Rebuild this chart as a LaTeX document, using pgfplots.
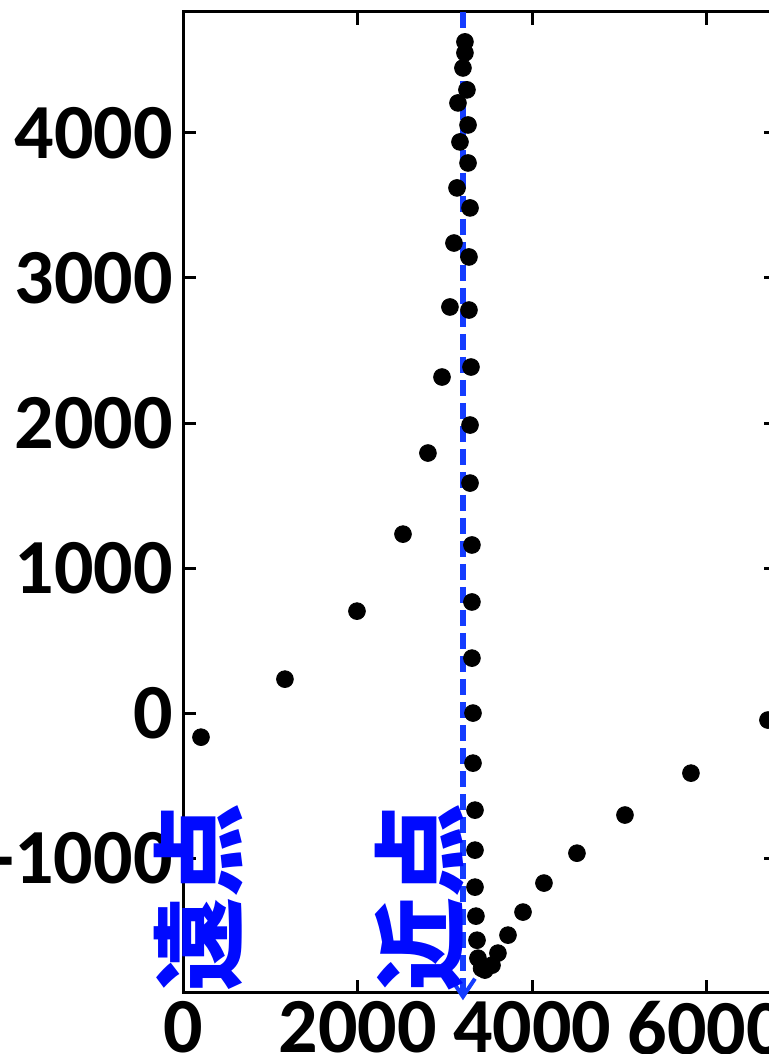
\documentclass[border=0pt]{standalone}
\usepackage{fontspec}
\setmainfont{Carlito}
\newfontfamily\cjk{Noto Sans CJK JP}
\usepackage{pgfplots}
\pgfplotsset{compat=1.18}
\usetikzlibrary{arrows.meta}
\definecolor{lineblue}{RGB}{20,60,255}
\definecolor{txtblue}{RGB}{0,10,255}
\begin{document}
\begin{tikzpicture}
\useasboundingbox (0,0) rectangle (384.5pt,527pt);
\clip (0,0) rectangle (384.5pt,527pt);
\begin{axis}[
  at={(91.5pt,30.5pt)}, anchor=south west,
  scale only axis, width=296.8pt, height=490.5pt,
  xmin=0, xmax=6800, ymin=-1930, ymax=4834,
  xtick={0,2000,4000,6000}, ytick={-1000,0,1000,2000,3000,4000},
  xticklabels={0,2000,4000,6000}, yticklabels={-1000,0,1000,2000,3000,4000},
  tick align=inside, major tick length=6.5pt,
  axis line style={line width=1.5pt},
  every tick/.style={black, line width=1.5pt},
  ticklabel style={font=\fontsize{39}{39}\selectfont\bfseries, inner sep=0pt},
  xticklabel style={yshift=-4pt},
  yticklabel style={xshift=-5pt},
  clip=false,
]
\addplot[only marks, mark=*, mark size=4.2pt, black] coordinates {
(206,-166) (1168,234) (1993,703) (2520,1234) (2806,1793) (2967,2317)
(3058,2800) (3104,3241) (3139,3621) (3173,3938) (3150,4207) (3207,4448)
(3230,4628) (3230,4552) (3253,4297) (3265,4055) (3265,3793) (3288,3483)
(3276,3145) (3276,2779) (3299,2386) (3288,1986) (3288,1586) (3310,1159)
(3310,766) (3310,379) (3322,0) (3322,-345) (3345,-669) (3345,-945)
(3345,-1200) (3356,-1400) (3368,-1566) (3379,-1690) (3420,-1760) (3459,-1772)
(3540,-1738) (3608,-1655) (3723,-1531) (3895,-1372) (4135,-1172)
(4513,-966) (5063,-703) (5819,-414) (6701,-48)
};
\addplot[draw=lineblue, line width=3pt, dash pattern=on 8pt off 3.5pt,
  -{Straight Barb[length=9pt,width=12pt,line width=2pt]}]
  coordinates {(3207,4834) (3207,-1980)};
\node[rotate=90, text=txtblue, font=\cjk\bfseries\fontsize{47}{47}\selectfont, inner sep=0pt]
  at (axis cs:178,-1269) {遠点};
\node[rotate=90, text=txtblue, font=\cjk\bfseries\fontsize{47}{47}\selectfont, inner sep=0pt]
  at (axis cs:2715,-1269) {近点};
\end{axis}
\end{tikzpicture}
\end{document}
